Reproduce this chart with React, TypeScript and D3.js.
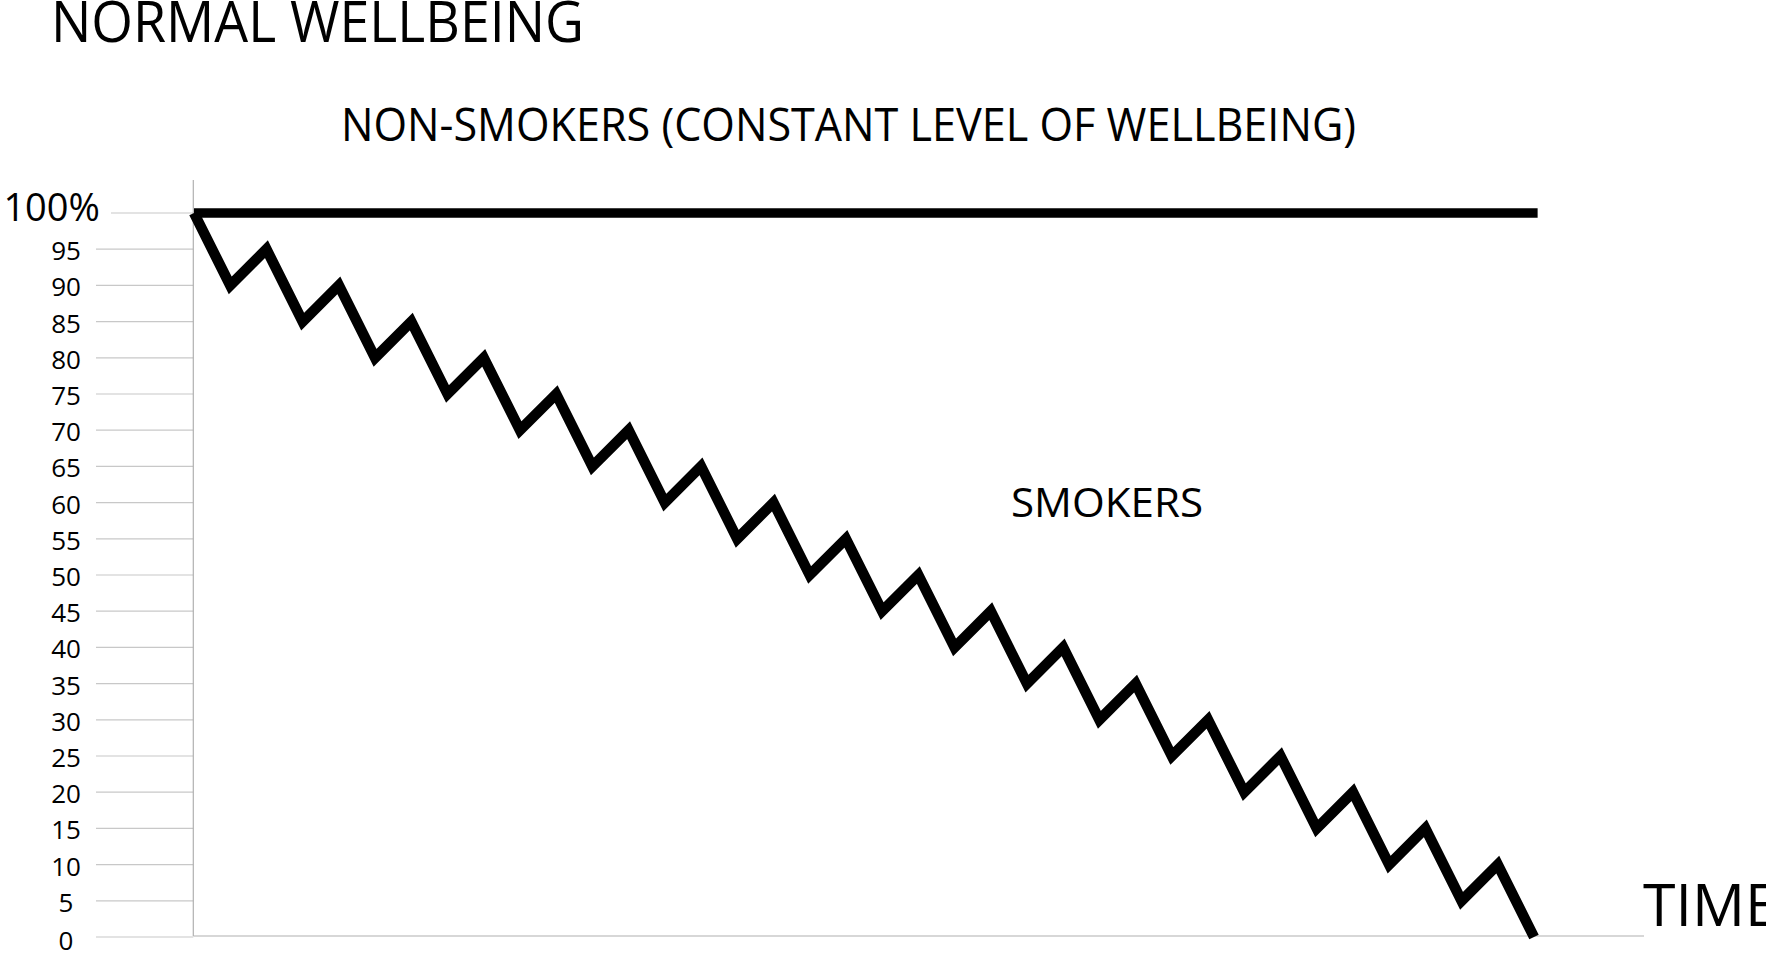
import React from 'react';
import * as d3 from 'd3';

// Y axis tick labels (0..100 in steps of 5)
const yTicks = [0, 5, 10, 15, 20, 25, 30, 35, 40, 45, 50, 55, 60, 65, 70, 75, 80, 85, 90, 95, 100];

// Time steps of the smokers' zigzag
const smokerTime = [
  0, 1, 2, 3, 4, 5, 6, 7, 8, 9, 10, 11, 12, 13, 14, 15, 16, 17, 18,
  19, 20, 21, 22, 23, 24, 25, 26, 27, 28, 29, 30, 31, 32, 33, 34, 35, 36, 37,
];
// Wellbeing of smokers: each cigarette drops it, partial recovery follows
const smokerWellbeing = [
  100, 90, 95, 85, 90, 80, 85, 75, 80, 70, 75, 65, 70, 60, 65, 55, 60, 50, 55,
  45, 50, 40, 45, 35, 40, 30, 35, 25, 30, 20, 25, 15, 20, 10, 15, 5, 10, 0,
];

// Non-smokers stay at a constant level
const nonSmokerTime = [0, 37.1];
const nonSmokerWellbeing = [100, 100];

const W = 1766;
const H = 953;
const FONT = "'Open Sans', 'Noto Sans', sans-serif";

export default function App() {
  const x = d3.scaleLinear().domain([0, 37]).range([194, 1534]);
  const y = d3.scaleLinear().domain([0, 100]).range([937, 213]);

  const line = d3
    .line<number>()
    .x((_: number, i: number) => x(smokerTime[i]))
    .y((d: number) => y(d));

  const flatLine = d3
    .line<number>()
    .x((_: number, i: number) => x(nonSmokerTime[i]))
    .y((d: number) => y(d));

  const axisX = x(0) - 0.7;
  const axisY = y(0) - 1;

  return (
    <svg
      width={W}
      height={H}
      style={{ position: 'absolute', left: 0, top: 0, background: '#fff' }}
      fontFamily={FONT}
    >
      {/* gridlines left of the axis */}
      {yTicks.map((t) => (
        <line
          key={'g' + t}
          x1={t === 100 ? 111 : 96}
          x2={axisX}
          y1={y(t)}
          y2={y(t)}
          stroke="#c8c8c8"
          strokeWidth={1.2}
        />
      ))}

      {/* tick labels */}
      {yTicks.map((t) =>
        t === 100 ? (
          <text key={'l' + t} x={100} y={y(t) + 8} textAnchor="end" fontSize={38} fill="#000">
            100%
          </text>
        ) : (
          <text
            key={'l' + t}
            x={66}
            y={y(t) + (t === 0 ? 3 : 1)}
            textAnchor="middle"
            dominantBaseline="central"
            fontSize={26}
            fill="#000"
          >
            {t}
          </text>
        )
      )}

      {/* axes */}
      <line x1={axisX} x2={axisX} y1={180} y2={axisY} stroke="#b0b0b0" strokeWidth={1.2} />
      <line x1={axisX} x2={1644} y1={axisY} y2={axisY} stroke="#b0b0b0" strokeWidth={1.2} />

      {/* non-smokers */}
      <path
        d={flatLine(nonSmokerWellbeing) || ''}
        fill="none"
        stroke="#000"
        strokeWidth={9.5}
      />

      {/* smokers */}
      <path
        d={line(smokerWellbeing) || ''}
        fill="none"
        stroke="#000"
        strokeWidth={10.5}
        strokeLinejoin="miter"
        strokeMiterlimit={4}
      />

      {/* texts */}
      <text x={51} y={42} fontSize={57} textLength={533} lengthAdjust="spacingAndGlyphs" fill="#000">
        NORMAL WELLBEING
      </text>
      <text x={341} y={141} fontSize={45} textLength={1015} lengthAdjust="spacingAndGlyphs" fill="#000">
        NON-SMOKERS (CONSTANT LEVEL OF WELLBEING)
      </text>
      <text x={1011} y={517} fontSize={40} textLength={192} lengthAdjust="spacingAndGlyphs" fill="#000">
        SMOKERS
      </text>
      <text x={1643} y={926} fontSize={59} fill="#000">
        TIME
      </text>
    </svg>
  );
}
